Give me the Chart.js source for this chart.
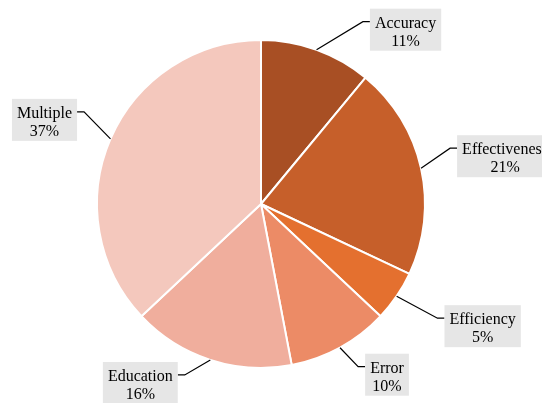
<!DOCTYPE html>
<html>
<head>
<meta charset="utf-8">
<script src="https://cdn.jsdelivr.net/npm/chart.js@4"></script>
<style>
  html, body { margin: 0; padding: 0; background: #ffffff; }
  #wrap { position: relative; width: 542px; height: 403px; }
  .warm { font-family: "Liberation Serif"; position: absolute; left: -999px; }
</style>
</head>
<body>
<div id="wrap"><canvas id="chart" width="542" height="403"></canvas></div>
<span class="warm">Accuracy 11%</span>
<script>
// Categories and their shares (percent)
const categories = ['Accuracy', 'Effectiveness', 'Efficiency', 'Error', 'Education', 'Multiple'];
const shares = [11, 21, 5, 10, 16, 37];

// Slice colours, dark to light
const sliceColors = ['#A84F24', '#C65F2A', '#E4702F', '#EC8B66', '#F0AE9D', '#F4C8BD'];

// Callout box centre, offset from where each slice's leader line leaves the rim
const calloutOffsets = [
  [89, -20], [84, -12], [86, 30], [47, 27], [-70, 23], [-66, -19]
];

const LABEL_FONT = '16px "Liberation Serif", "Times New Roman", Times, serif';

const calloutPlugin = {
  id: 'callouts',
  afterDatasetsDraw(chart) {
    const ctx = chart.ctx;
    const meta = chart.getDatasetMeta(0);
    ctx.save();
    ctx.font = LABEL_FONT;
    meta.data.forEach((arc, i) => {
      const { x, y, startAngle, endAngle, outerRadius } = arc.getProps(['x', 'y', 'startAngle', 'endAngle', 'outerRadius'], true);
      const mid = (startAngle + endAngle) / 2;
      const ax = x + Math.cos(mid) * outerRadius;
      const ay = y + Math.sin(mid) * outerRadius;
      const line1 = categories[i];
      const line2 = shares[i] + '%';
      const tw = Math.max(ctx.measureText(line1).width, ctx.measureText(line2).width);
      const bw = tw + 10, bh = 42;
      const cx = ax + calloutOffsets[i][0];
      const cy = ay + calloutOffsets[i][1];
      const left = cx - bw / 2, top = cy - bh / 2;
      const onRight = cx > ax;
      const sideX = onRight ? left : left + bw;
      const elbowX = onRight ? sideX - 7 : sideX + 7;
      const elbowY = top + 13;

      // leader line
      ctx.strokeStyle = '#000000';
      ctx.lineWidth = 1.2;
      ctx.beginPath();
      ctx.moveTo(ax, ay);
      ctx.lineTo(elbowX, elbowY);
      ctx.lineTo(sideX, elbowY);
      ctx.stroke();

      // box
      ctx.fillStyle = '#E6E6E6';
      ctx.fillRect(left, top, bw, bh);

      // text
      ctx.fillStyle = '#000000';
      ctx.textAlign = 'center';
      ctx.textBaseline = 'alphabetic';
      ctx.fillText(line1, cx, top + 19);
      ctx.fillText(line2, cx, top + 37);
    });
    ctx.restore();
  }
};

function drawChart() {
  new Chart(document.getElementById('chart'), {
    type: 'pie',
    data: {
      labels: categories,
      datasets: [{
        data: shares,
        backgroundColor: sliceColors,
        borderColor: '#ffffff',
        borderWidth: 2
      }]
    },
    options: {
      responsive: false,
      animation: false,
      layout: { padding: { top: 39, bottom: 34, left: 96, right: 116 } },
      plugins: {
        legend: { display: false },
        tooltip: { enabled: false }
      }
    },
    plugins: [calloutPlugin]
  });
}

if (document.fonts && document.fonts.load) {
  document.fonts.load(LABEL_FONT).then(drawChart, drawChart);
} else {
  drawChart();
}
</script>
</body>
</html>
